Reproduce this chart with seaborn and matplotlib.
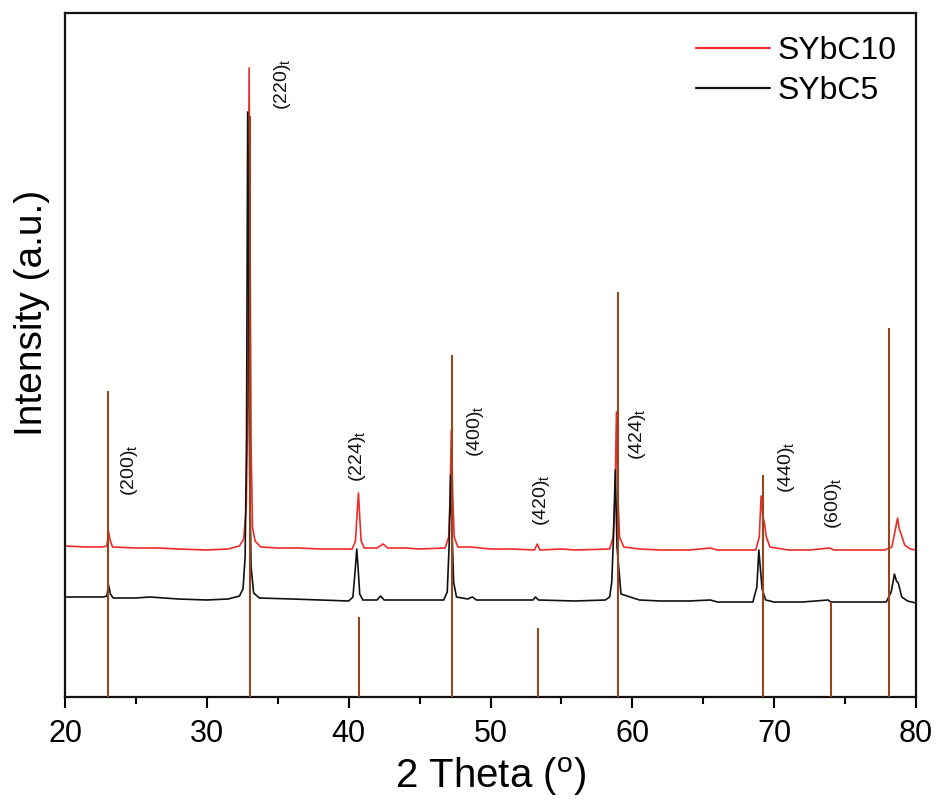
import matplotlib
matplotlib.use("Agg")
import matplotlib.pyplot as plt
import seaborn as sns
import pandas as pd
from matplotlib.lines import Line2D

# ---------------- data ----------------
# SYbC10 (red) vertices: 2-theta and intensity (a.u.)
sybc10_x = [20.0, 21.5, 22.6, 22.95, 23.08, 23.18, 23.35, 25.0, 26.5, 28.0, 30.0, 31.5, 32.3, 32.6,
            32.78, 32.9, 32.98, 33.06, 33.12, 33.22, 33.4, 33.8, 35.0, 36.5, 38.0, 40.25, 40.48,
            40.6, 40.69, 40.78, 40.88, 41.1, 42.0, 42.42, 42.75, 44.0, 45.0, 46.8, 47.05, 47.15,
            47.24, 47.34, 47.44, 47.7, 48.6, 50.0, 51.5, 53.1, 53.3, 53.48, 55.0, 56.0, 58.4,
            58.65, 58.78, 58.88, 58.98, 59.1, 59.4, 60.5, 62.0, 64.0, 65.5, 66.0, 68.7, 68.95,
            69.08, 69.2, 69.3, 69.45, 69.7, 71.0, 72.5, 73.9, 74.2, 76.0, 77.8, 78.3, 78.55,
            78.7, 78.82, 78.93, 79.2, 79.6, 80.0]
sybc10_y = [151, 150, 150, 151, 165, 157, 150, 149, 149, 148, 147, 148, 151, 158,
            190, 300, 629, 420, 250, 170, 156, 150, 149, 149, 148, 148, 156,
            185, 204, 180, 156, 149, 149, 153, 149, 149, 148, 149, 160, 200,
            267, 200, 160, 150, 150, 148, 148, 147, 153, 147, 148, 147, 148,
            160, 200, 285, 200, 160, 150, 148, 147, 147, 149, 147, 147, 160,
            201, 180, 175, 160, 150, 147, 147, 149, 147, 147, 147, 150, 168,
            179, 168, 164, 152, 148, 147]

# SYbC5 (black) vertices
sybc5_x = [20.0, 21.5, 22.7, 22.95, 23.07, 23.2, 23.4, 25.0, 26.0, 28.0, 30.0, 31.5, 32.3, 32.55,
           32.7, 32.8, 32.88, 32.96, 33.02, 33.12, 33.3, 33.7, 36.0, 38.0, 40.0, 40.3, 40.45,
           40.57, 40.66, 40.78, 41.0, 42.0, 42.25, 42.5, 44.5, 46.7, 46.95, 47.08, 47.19, 47.3,
           47.4, 47.6, 48.4, 48.72, 49.0, 51.0, 53.0, 53.17, 53.38, 56.0, 58.1, 58.4, 58.55,
           58.67, 58.8, 58.92, 59.2, 60.5, 62.0, 64.0, 65.5, 66.0, 68.5, 68.78, 68.92, 69.03,
           69.15, 69.4, 70.0, 72.0, 73.8, 74.0, 76.0, 77.9, 78.25, 78.48, 78.62, 78.75, 79.0,
           79.4, 80.0]
sybc5_y = [100, 100, 100, 101, 112, 103, 99, 99, 100, 98, 97, 98, 101, 108,
           140, 260, 585, 400, 220, 130, 104, 99, 98, 97, 96, 100, 125,
           148, 130, 103, 97, 97, 101, 97, 97, 97, 105, 150, 222, 160,
           115, 100, 98, 100, 97, 97, 97, 100, 97, 96, 97, 100, 115,
           160, 227, 150, 103, 97, 96, 96, 97, 95, 95, 110, 147, 128,
           108, 97, 95, 95, 97, 95, 95, 95, 105, 123, 116, 114, 100,
           96, 94]

# Reference pattern (brown sticks)
ref_pos = [23.0, 33.07, 40.73, 47.32, 53.36, 58.97, 69.2, 74.0, 78.08]
ref_int = [306, 581, 80, 342, 69, 405, 222, 95, 369]

# Miller-index labels
hkl_labels = ["(200)", "(220)", "(224)", "(400)", "(420)", "(424)", "(440)", "(600)"]
hkl_x = [24.58, 35.37, 40.59, 48.91, 53.57, 60.34, 70.85, 74.16]
hkl_y = [227, 613, 241, 266, 197, 263, 230, 194]

series_names = ["SYbC10", "SYbC5"]
series_colors = ["#EE2B2B", "#111111"]
x_ticks = [20, 30, 40, 50, 60, 70, 80]

# ---------------- styling ----------------
sns.set_style("ticks")
regular = ["Liberation Sans", "Arial", "DejaVu Sans"]
plt.rcParams["font.family"] = regular
plt.rcParams["mathtext.fontset"] = "custom"
plt.rcParams["mathtext.rm"] = "Liberation Sans"
plt.rcParams["mathtext.it"] = "Liberation Sans:italic"
plt.rcParams["text.color"] = "black"
plt.rcParams["axes.labelcolor"] = "black"
plt.rcParams["xtick.color"] = "black"
plt.rcParams["ytick.color"] = "black"

df = pd.concat([
    pd.DataFrame({"two_theta": sybc10_x, "intensity": sybc10_y, "sample": series_names[0]}),
    pd.DataFrame({"two_theta": sybc5_x, "intensity": sybc5_y, "sample": series_names[1]}),
], ignore_index=True)

fig = plt.figure(figsize=(9.36, 8.02), dpi=100)
ax = fig.add_axes([65 / 936, 105 / 802, 851 / 936, 684 / 802])

sns.lineplot(data=df, x="two_theta", y="intensity", hue="sample",
             hue_order=series_names, palette=series_colors, sort=True,
             estimator=None, linewidth=1.2, legend=False, ax=ax, zorder=2)

ax.vlines(ref_pos, 0, ref_int, colors="#96461A", linewidth=1.5, zorder=3)

for lab, x, y in zip(hkl_labels, hkl_x, hkl_y):
    ax.text(x, y, lab + r"$_{\mathrm{t}}$", rotation=90, ha="center", va="center",
            fontsize=14, family=regular, color="#111111")

ax.set_xlim(20, 80)
ax.set_ylim(0, 684)
ax.set_xticks(x_ticks)
ax.set_xticks([25, 35, 45, 55, 65, 75], minor=True)
ax.set_yticks([])
ax.tick_params(axis="x", which="major", direction="out", length=8, width=1.5,
               pad=8, labelsize=22, colors="black")
ax.tick_params(axis="x", which="minor", direction="out", length=5, width=1.5)
for s in ax.spines.values():
    s.set_linewidth(1.6)
    s.set_color("#111111")

ax.set_xlabel(r"2 Theta ($^{\mathrm{o}}$)", fontsize=29, labelpad=4)
ax.set_ylabel("Intensity (a.u.)", fontsize=28)
ax.yaxis.set_label_coords(-0.018, 0.562)

handles = [Line2D([], [], color=c, linewidth=1.6) for c in series_colors]
ax.legend(handles, series_names, loc="upper left", bbox_to_anchor=(0.708, 1.008),
          frameon=False, fontsize=23, handlelength=2.3, handletextpad=0.25,
          labelspacing=0.3)

fig.savefig("out.png", dpi=100)
